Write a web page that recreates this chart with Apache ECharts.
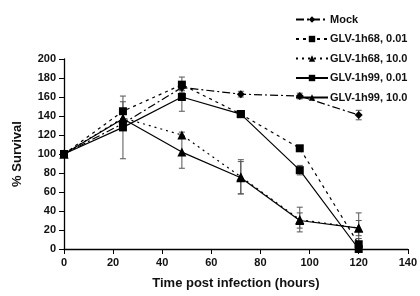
<!DOCTYPE html>
<html><head><meta charset="utf-8">
<script src="https://cdn.jsdelivr.net/npm/echarts@6/dist/echarts.min.js"></script>
<style>html,body{margin:0;padding:0;background:#fff}#c{width:420px;height:296px}</style>
</head><body><div id="c"></div>
<script>
var hours = [0, 24, 48, 72, 96, 120];
var seriesNames = ['Mock', 'GLV-1h68, 0.01', 'GLV-1h68, 10.0', 'GLV-1h99, 0.01', 'GLV-1h99, 10.0'];
var mock     = [100, 132, 170, 163, 161, 141];
var h68low   = [100, 145, 173, 142, 106, 5];
var h68high  = [100, 138, 120, 76, 31, 22];
var h99low   = [100, 128, 160, 142, 83, 0];
var h99high  = [100, 137, 102, 75, 30, 22];
var mockErr    = [0, 5, 3, 3, 3, 5];
var h68lowErr  = [0, 10, 8, 2, 2, 6];
var h68highErr = [0, 8, 3, 18, 13, 16];
var h99lowErr  = [0, 33, 15, 2, 5, 3];
var h99highErr = [0, 8, 17, 17, 8, 8];
var xTicks = [0, 20, 40, 60, 80, 100, 120, 140];
var yTicks = [0, 20, 40, 60, 80, 100, 120, 140, 160, 180, 200];

var font = 'Liberation Sans, Arial, sans-serif';
var tri = 'path://M5,0 L10,9 L0,9 Z';
var styles = [
  {sym: 'diamond', size: 8, dash: [8, 3, 2, 3]},
  {sym: 'rect', size: 8, dash: [3, 4]},
  {sym: tri, size: 9, dash: [2, 4]},
  {sym: 'rect', size: 8, dash: 'solid'},
  {sym: tri, size: 9, dash: 'solid'}
];
var vals = [mock, h68low, h68high, h99low, h99high];
var errs = [mockErr, h68lowErr, h68highErr, h99lowErr, h99highErr];

var series = [];
vals.forEach(function (v, i) {
  var errData = [];
  hours.forEach(function (h, k) {
    if (errs[i][k] > 0) errData.push([h, v[k] - errs[i][k], v[k] + errs[i][k]]);
  });
  series.push({
    type: 'custom', name: seriesNames[i] + ' err', silent: true, z: 1,
    data: errData,
    renderItem: function (params, api) {
      var lo = api.coord([api.value(0), api.value(1)]);
      var hi = api.coord([api.value(0), api.value(2)]);
      var w = 3;
      var st = {stroke: '#555', lineWidth: 1};
      return {type: 'group', children: [
        {type: 'line', shape: {x1: lo[0], y1: lo[1], x2: hi[0], y2: hi[1]}, style: st},
        {type: 'line', shape: {x1: lo[0] - w, y1: lo[1], x2: lo[0] + w, y2: lo[1]}, style: st},
        {type: 'line', shape: {x1: hi[0] - w, y1: hi[1], x2: hi[0] + w, y2: hi[1]}, style: st}
      ]};
    }
  });
});
vals.forEach(function (v, i) {
  series.push({
    type: 'line', name: seriesNames[i], z: 3,
    data: hours.map(function (h, k) { return [h, v[k]]; }),
    symbol: styles[i].sym, symbolSize: styles[i].size, showSymbol: true,
    itemStyle: {color: '#000'},
    lineStyle: {color: '#000', width: 1.2, type: styles[i].dash},
    clip: false
  });
});

var chart = echarts.init(document.getElementById('c'), null, {renderer: 'canvas'});
chart.setOption({
  animation: false,
  backgroundColor: '#fff',
  grid: {left: 64, right: 11, top: 59, bottom: 47},
  legend: {
    data: seriesNames, orient: 'vertical', left: 290, top: 9,
    itemWidth: 32, itemHeight: 8, itemGap: 8.5,
    textStyle: {fontFamily: font, fontWeight: 'bold', fontSize: 11, color: '#111', padding: [0, 0, 0, -3]}
  },
  xAxis: {
    type: 'value', min: xTicks[0], max: xTicks[xTicks.length - 1], interval: 20,
    name: 'Time post infection (hours)', nameLocation: 'middle', nameGap: 28,
    nameTextStyle: {fontFamily: font, fontWeight: 'bold', fontSize: 13, color: '#111'},
    axisLine: {lineStyle: {color: '#000', width: 1.3}},
    axisTick: {show: true, length: 5, lineStyle: {color: '#000'}},
    axisLabel: {fontFamily: font, fontWeight: 'bold', fontSize: 11, color: '#111', margin: 8},
    splitLine: {show: false}
  },
  yAxis: {
    type: 'value', min: yTicks[0], max: yTicks[yTicks.length - 1], interval: 20,
    name: '% Survival', nameLocation: 'middle', nameGap: 40, nameRotate: 90,
    nameTextStyle: {fontFamily: font, fontWeight: 'bold', fontSize: 13, color: '#111'},
    axisLine: {show: true, lineStyle: {color: '#000', width: 1.3}},
    axisTick: {show: true, length: 5, lineStyle: {color: '#000'}},
    axisLabel: {fontFamily: font, fontWeight: 'bold', fontSize: 11, color: '#111', margin: 8},
    splitLine: {show: false}
  },
  series: series
});
</script></body></html>
